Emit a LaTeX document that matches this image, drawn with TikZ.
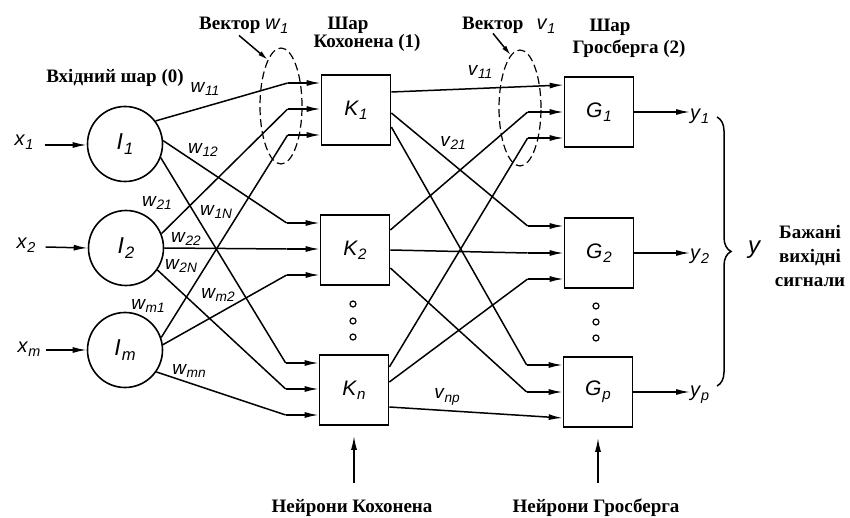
\RequirePackage{fix-cm}
\documentclass[tikz,border=0pt]{standalone}
\usepackage{graphicx}
\usepackage{fontspec}
\setmainfont{Liberation Serif}
\newfontfamily\gostf{Liberation Sans}
\newcommand{\gl}[2]{{\gostf\itshape #1\kern0.04em\raisebox{-0.38ex}{\scalebox{0.72}{#2}}}}
\usetikzlibrary{arrows.meta,shapes.geometric,decorations.pathreplacing,calc}
\begin{document}
\begin{tikzpicture}[x=1pt,y=-1pt,
  ln/.style={line width=1.5pt},
  arr/.style={ln,-{Latex[length=14pt,width=6pt]}},
  neuron/.style={circle,draw,line width=1.6pt,minimum size=75pt,inner sep=0pt,font=\fontsize{23}{25}\selectfont},
  kbox/.style={draw,line width=1.7pt,minimum width=69pt,minimum height=70pt,inner sep=0pt,font=\fontsize{21}{23}\selectfont},
  wlab/.style={font=\fontsize{19}{21}\selectfont,inner sep=0pt},
  title/.style={font=\fontsize{19}{22}\selectfont\bfseries,inner sep=0pt,align=center},
  smalldot/.style={circle,draw,line width=1.2pt,minimum size=6pt,inner sep=0pt},
  vell/.style={ellipse,draw,line width=1.2pt,dash pattern=on 8pt off 4pt,minimum width=42pt,minimum height=116pt,inner sep=0pt}
]
\useasboundingbox (0,0) rectangle (850,518);

% input layer
\node[neuron] (I1) at (125,144) {\gl{I}{1}};
\node[neuron] (I2) at (126,248) {\gl{I}{2}};
\node[neuron] (Im) at (125,350) {\gl{I}{m}};

% Kohonen layer
\node[kbox] (K1) at (356,110) {\gl{K}{1}};
\node[kbox] (K2) at (355,250) {\gl{K}{2}};
\node[kbox] (Kn) at (354,390) {\gl{K}{n}};

% Grossberg layer
\node[kbox] (G1) at (599,112) {\gl{G}{1}};
\node[kbox] (G2) at (599,253) {\gl{G}{2}};
\node[kbox] (Gp) at (598,392) {\gl{G}{p}};

% dots
\node[smalldot] (dk1) at (353,304) {};
\node[smalldot] (dk2) at (353,321) {};
\node[smalldot] (dk3) at (353,337) {};
\node[smalldot] (dg1) at (596,306) {};
\node[smalldot] (dg2) at (596,322) {};
\node[smalldot] (dg3) at (596,338) {};

% inputs x
\node[wlab,font=\fontsize{20}{22}\selectfont] (x1) at (24,142) {\gl{x}{1}};
\node[wlab,font=\fontsize{20}{22}\selectfont] (x2) at (26,245) {\gl{x}{2}};
\node[wlab,font=\fontsize{20}{22}\selectfont] (xm) at (29,349) {\gl{x}{m}};
\draw[arr] ($(x1.east)+(11,3)$) -- (I1.west |- {$(x1.east)+(11,3)$});
\draw[arr] ($(x2.east)+(10,2)$) -- (I2.west);
\draw[arr] ($(xm.east)+(5,1)$) -- (Im.west);

% bend coordinates before Kohonen boxes
\foreach \k in {K1,K2,Kn}{
  \coordinate (\k a) at ($(\k.west)+(-33,-27)$);
  \coordinate (\k b) at ($(\k.west)+(-33,-1)$);
  \coordinate (\k c) at ($(\k.west)+(-33,25)$);
  \draw[arr] (\k a) -- (\k a -| \k.west);
  \draw[arr] (\k b) -- (\k b -| \k.west);
  \draw[arr] (\k c) -- (\k c -| \k.west);
}
\draw[ln] (I1.37) -- (K1a);
\draw[ln] (I1.5) -- (K2a);
\draw[ln] (I1.-21) -- (Kna);
\draw[ln] (I2.22) -- (K1b);
\draw[ln] (I2.0) -- (K2b);
\draw[ln] (I2.-35) -- (Knb);
\draw[ln] (Im.19) -- (K1c);
\draw[ln] (Im.8) -- (K2c);
\draw[ln] (Im.-35) -- (Knc);

% weight labels
\node[wlab] (w11) at (205,89) {\gl{w}{11}};
\node[wlab] (w12) at (203,150) {\gl{w}{12}};
\node[wlab] (w21) at (157,203) {\gl{w}{21}};
\node[wlab] (w1N) at (216,212) {\gl{w}{1N}};
\node[wlab] (w22) at (186,239) {\gl{w}{22}};
\node[wlab] (w2N) at (181,266) {\gl{w}{2N}};
\node[wlab] (wm2) at (218,295) {\gl{w}{m2}};
\node[wlab] (wm1) at (148,306) {\gl{w}{m1}};
\node[wlab] (wmn) at (189,371) {\gl{w}{mn}};

% Kohonen outputs
\coordinate (K1o1) at ($(K1.east)+(0,-18)$);
\coordinate (K1o2) at ($(K1.east)+(0,3)$);
\coordinate (K1o3) at ($(K1.east)+(0,17)$);
\coordinate (K2o1) at ($(K2.east)+(0,-20)$);
\coordinate (K2o2) at ($(K2.east)+(0,0)$);
\coordinate (K2o3) at ($(K2.east)+(0,18)$);
\coordinate (Kno1) at ($(Kn.east)+(0,-23)$);
\coordinate (Kno2) at ($(Kn.east)+(0,-8)$);
\coordinate (Kno3) at ($(Kn.east)+(0,17)$);

% bend coordinates before Grossberg boxes
\foreach \g in {G1,G2,Gp}{
  \coordinate (\g a) at ($(\g.west)+(-36,-27)$);
  \coordinate (\g b) at ($(\g.west)+(-36,0)$);
  \coordinate (\g c) at ($(\g.west)+(-36,26)$);
}
\draw[arr] (K1o1) -- (G1a -| G1.west);
\draw[arr] (G1b) -- (G1b -| G1.west);
\draw[arr] (G1c) -- (G1c -| G1.west);
\draw[arr] (G2a) -- (G2a -| G2.west);
\draw[arr] (G2b) -- (G2b -| G2.west);
\draw[arr] (G2c) -- (G2c -| G2.west);
\draw[arr] (Gpa) -- (Gpa -| Gp.west);
\draw[arr] (Gpb) -- (Gpb -| Gp.west);
\draw[arr] (Kno3) -- (Gpc -| Gp.west);

\draw[ln] (K1o2) -- (G2a);
\draw[ln] (K1o3) -- (Gpa);
\draw[ln] (K2o1) -- (G1b);
\draw[ln] (K2o2) -- (G2b);
\draw[ln] (K2o3) -- (Gpb);
\draw[ln] (Kno1) -- (G1c);
\draw[ln] (Kno2) -- (G2c);

\node[wlab] (v11) at (480,72) {\gl{v}{11}};
\node[wlab] (v21) at (453,143) {\gl{v}{21}};
\node[wlab] (vnp) at (447,397) {\gl{v}{np}};

% vector ellipses
\node[vell] (ew) at (281,106) {};
\node[vell] (ev) at (520,108) {};
\node[title,anchor=west] (vw) at (199,25) {Вектор {\mdseries\fontsize{20}{22}\selectfont\gl{w}{1}}};
\node[title,anchor=west] (vv) at (462,25) {Вектор\;\, {\mdseries\fontsize{20}{22}\selectfont\gl{v}{1}}};
\draw[ln,-{Latex[length=10pt,width=5pt]}] ($(vw.south west)+(40,2)$) -- (ew.106);
\draw[ln,-{Latex[length=10pt,width=5pt]}] ($(vv.south west)+(31,0)$) -- (ev.100);

% layer titles
\node[title] (tin) at (115,78) {Вхідний шар (0)};
\node[title] (tk1) at (348,25) {Шар};
\node[title] (tk2) at (367,43) {Кохонена (1)};
\node[title] (tg1) at (610,27) {Шар};
\node[title] (tg2) at (629,49) {Гросберга (2)};

% outputs
\node[wlab,anchor=west,font=\fontsize{20}{22}\selectfont] (y1) at (690,116) {\gl{y}{1}};
\node[wlab,anchor=west,font=\fontsize{20}{22}\selectfont] (y2) at (690,256) {\gl{y}{2}};
\node[wlab,anchor=west,font=\fontsize{20}{22}\selectfont] (yp) at (690,395) {\gl{y}{p}};
\draw[arr] (G1.east) -- (G1.east -| y1.west);
\draw[arr] (G2.east) -- (G2.east -| y2.west);
\draw[arr] (Gp.east) -- (Gp.east -| yp.west);

\draw[ln,decorate,decoration={brace,amplitude=14pt}] (717,117) -- (717,386);
\node[font=\fontsize{24}{26}\selectfont,inner sep=0pt] (Y) at (754,250) {\gostf\itshape y};
\node[title,font=\fontsize{19}{24}\selectfont\bfseries] (des) at (810,256) {Бажані\\вихідні\\сигнали};

% bottom labels
\node[title] (nk) at (352,508) {Нейрони Кохонена};
\node[title] (ng) at (596,508) {Нейрони Гросберга};
\draw[arr,shorten <=16pt,shorten >=10pt] (Kn.south |- nk.north) -- (Kn.south);
\draw[arr,shorten <=16pt,shorten >=10pt] (Gp.south |- ng.north) -- (Gp.south);
\end{tikzpicture}
\end{document}
